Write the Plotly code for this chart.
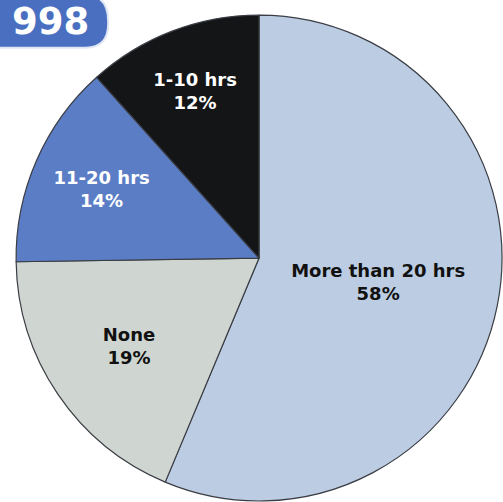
import plotly.graph_objects as go

labels = ["More than 20 hrs", "None", "11-20 hrs", "1-10 hrs"]
values = [58, 19, 14, 12]
colors = ["#bccde3", "#cfd5d0", "#5b7dc6", "#141517"]
text_colors = ["#111111", "#111111", "#ffffff", "#ffffff"]
badge_text = "998"

texts = [f"<b>{l}<br>{v}%</b>" for l, v in zip(labels, values)]

fig = go.Figure(go.Pie(
    labels=labels,
    values=values,
    text=texts,
    textinfo="text",
    hoverinfo="label+percent",
    sort=False,
    direction="clockwise",
    rotation=0,
    marker=dict(colors=colors, line=dict(color="#3a3d44", width=1.2)),
    textposition="inside",
    insidetextorientation="horizontal",
    textfont=dict(family="DejaVu Sans", size=18, color=text_colors),
    domain=dict(x=[0.032, 0.998], y=[0.002, 0.970]),
    showlegend=False,
))

fig.add_shape(type="path",
              path="M -0.05 1.01 L 0.17 1.01 Q 0.215 1.01 0.215 0.958 L 0.215 0.952 Q 0.215 0.905 0.17 0.905 L -0.05 0.905 Z",
              xref="paper", yref="paper", fillcolor="#4a6fc0",
              line=dict(color="#dfe6f3", width=2), layer="above")
fig.add_annotation(x=0.1, y=0.958, xref="paper", yref="paper",
                   xanchor="center", yanchor="middle",
                   text=f"<b>{badge_text}</b>", showarrow=False,
                   font=dict(family="DejaVu Sans", size=37, color="white"))

fig.update_layout(width=503, height=502, margin=dict(l=0, r=0, t=0, b=0),
                  paper_bgcolor="white", plot_bgcolor="white")
fig.write_html("out.html", config={"displayModeBar": False},
               post_script="document.body.style.margin='0';document.body.style.overflow='hidden';")
